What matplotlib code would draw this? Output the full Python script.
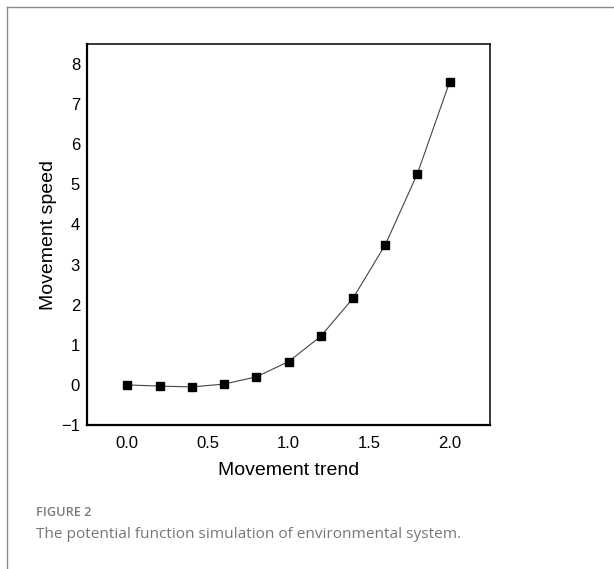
import matplotlib
matplotlib.use("Agg")
import matplotlib.pyplot as plt
from matplotlib.lines import Line2D

trend = [0.0, 0.2, 0.4, 0.6, 0.8, 1.0, 1.2, 1.4, 1.6, 1.8, 2.0]
speed = [0.0, -0.03, -0.05, 0.02, 0.2, 0.58, 1.21, 2.16, 3.49, 5.27, 7.56]
xticks = [0.0, 0.5, 1.0, 1.5, 2.0]
yticks = [-1, 0, 1, 2, 3, 4, 5, 6, 7, 8]

W, H = 614, 569
fig = plt.figure(figsize=(W / 100, H / 100), dpi=100)
fig.patch.set_facecolor("white")

# outer card border (top and left)
fig.add_artist(Line2D([7 / W, 1.0], [1 - 7 / H, 1 - 7 / H], transform=fig.transFigure,
                      color="#8a8a8a", lw=1.0))
fig.add_artist(Line2D([7 / W, 7 / W], [0.0, 1 - 7 / H], transform=fig.transFigure,
                      color="#8a8a8a", lw=1.0))

left, right, top, bottom = 87, 490, 44, 425
ax = fig.add_axes([left / W, 1 - bottom / H, (right - left) / W, (bottom - top) / H])
ax.plot(trend, speed, color="#444444", lw=0.8, marker="s", ms=6.2,
        mfc="black", mec="black")
ax.set_xlim(-0.25, 2.25)
ax.set_ylim(-1, 8.5)
ax.set_xticks(xticks)
ax.set_xticklabels([f"{t:.1f}" for t in xticks])
ax.set_yticks(yticks)
ax.set_yticklabels(["\u22121" if t < 0 else str(t) for t in yticks])
ax.tick_params(length=0, labelsize=12)
ax.tick_params(axis="x", pad=8)
ax.tick_params(axis="y", pad=5)
for lab in ax.get_xticklabels() + ax.get_yticklabels():
    lab.set_fontfamily("Liberation Sans")
for s in ["left", "bottom"]:
    ax.spines[s].set_linewidth(1.6)
for s in ["top", "right"]:
    ax.spines[s].set_linewidth(1.1)
ax.set_xlabel("Movement trend", fontsize=14, family="Liberation Sans", labelpad=8)
ax.set_ylabel("Movement speed", fontsize=14, family="Liberation Sans", labelpad=3)

fig.text(36 / W, 1 - 513 / H, "FIGURE 2", fontsize=9.2, color="#7a7a7a",
         family="Open Sans", weight="semibold", va="center", ha="left")
fig.text(36 / W, 1 - 535 / H, "The potential function simulation of environmental system.",
         fontsize=11.05, color="#777777", family="Open Sans", va="center", ha="left")

fig.savefig("out.png", dpi=100)
